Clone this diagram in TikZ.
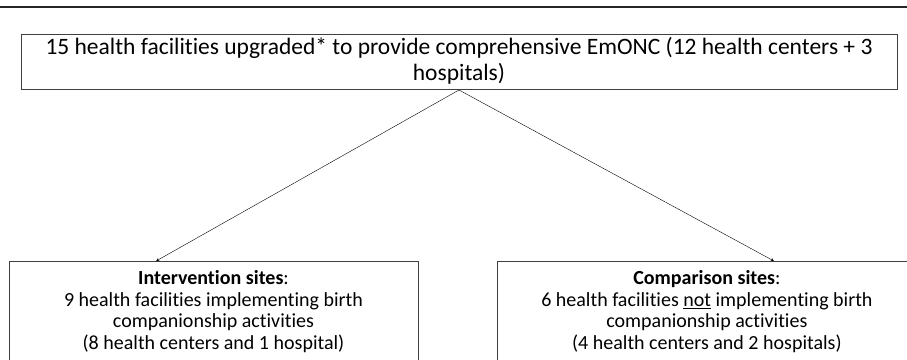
\documentclass[tikz,border=0pt]{standalone}
\usepackage{fontspec}
\setmainfont{Carlito}[Ligatures=NoCommon]
\usetikzlibrary{positioning,calc}
\tikzset{>=stealth, % small pointed arrow heads
every node/.style={line width=0.9pt, draw=black!75}, % frame of each box
headbox/.style={draw, minimum width=876pt, align=center, inner ysep=3pt, text depth=6pt, font=\fontsize{23.5}{26}\selectfont}, % the upgraded facilities box
sitebox/.style={draw, align=center, inner ysep=9pt, text depth=30pt, font=\fontsize{20}{21.7}\selectfont}, % the two groups of sites
}

\begin{document}
\begin{tikzpicture}[x=1pt, y=-1pt]
\useasboundingbox (0,0) rectangle (907,359);
\draw[line width=2pt, black!85] (0,7) -- (907,7);
\node[headbox, anchor=south] (upgraded) at (459,90) {15 health facilities upgraded* to provide comprehensive EmONC (12 health centers + 3\\hospitals)};
\node[sitebox, minimum width=409pt, anchor=north] (intervention) at (213.5,261) {\textbf{Intervention sites}:\\9 health facilities implementing birth\\companionship activities\\(8 health centers and 1 hospital)};
\node[sitebox, minimum width=418pt, right=79pt of intervention] (comparison) {\textbf{Comparison sites}:\\6 health facilities \underline{not} implementing birth\\companionship activities\\(4 health centers and 2 hospitals)};
\draw[->] (upgraded.south) -- ($(intervention.north west)!0.36!(intervention.north east)$);
\draw[->] (upgraded.south) -- ($(comparison.north west)!0.66!(comparison.north east)$);
\end{tikzpicture}
\end{document}
